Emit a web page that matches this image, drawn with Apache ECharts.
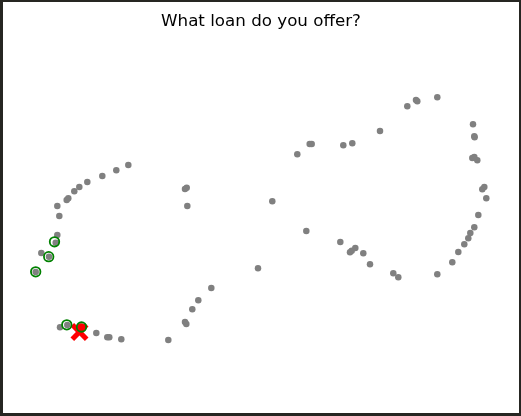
<!DOCTYPE html>
<html>
<head>
<meta charset="utf-8">
<script src="https://cdn.jsdelivr.net/npm/echarts@6/dist/echarts.min.js"></script>
<style>
  html, body { margin: 0; padding: 0; width: 521px; height: 416px; background: #262622; overflow: hidden; }
  #chart { position: absolute; left: 3px; top: 2px; width: 516px; height: 411px; background: #fff; }
</style>
</head>
<body>
<div id="chart"></div>
<script>
const titleText = "What loan do you offer?";

// all loans (x, y in the embedding plane)
const loanPoints = [
  [128.3, 165], [116.3, 170.3], [102.3, 176], [87.3, 182], [79.3, 187], [74.3, 191.3],
  [68.3, 198.3], [66.7, 200], [57.3, 206], [59.3, 216], [57.3, 235], [55.7, 242.7],
  [41.3, 253], [49, 256.7], [35.7, 272],
  [185, 189], [186.7, 187.7], [187.3, 206], [272.3, 201.3], [258, 268.3], [211.3, 288],
  [198.3, 300.3], [192.3, 309.3], [185, 322], [186.3, 324], [168.3, 340],
  [67.3, 325], [60, 327.3], [81, 327.3], [96.3, 333], [107.3, 337.3], [109.3, 337.3], [121.3, 339.3],
  [437.3, 97.3], [416, 100], [417.3, 101.3], [407.3, 106.3], [380, 131], [309.7, 144],
  [311.7, 144], [343.3, 145.3], [352.3, 143.3], [297.3, 154.3], [473, 124.3], [474.3, 136.3],
  [474.6, 137.3], [472.3, 158], [474.3, 157], [477.3, 160.3], [482.3, 189.3], [484.3, 187],
  [486.3, 198.3], [478.3, 215], [474.3, 227.3], [470.3, 233], [468.3, 238.3], [464.3, 244.3],
  [458.3, 252], [452.3, 262.3], [437.3, 274.3], [306.3, 231], [340.3, 242], [350, 252.3],
  [351.7, 250.7], [355.3, 248], [363.3, 253.3], [370, 264.3], [393.3, 273.3], [398.3, 277.3]
];

// nearest neighbours of the query
const neighbourPoints = [[54.5, 241.8], [48.7, 256.7], [35.7, 271.8], [66.8, 324.8], [81.5, 327]];

// the query itself
const queryPoint = [[81, 327.3]];
const queryCross = [[79.5, 332]];

const crossPath = "path://M0,2 L2,0 L5,3 L8,0 L10,2 L7,5 L10,8 L8,10 L5,7 L2,10 L0,8 L3,5 Z";

let myChart = echarts.init(document.getElementById("chart"));

let option = {
  animation: false,
  title: {
    text: titleText,
    left: "center",
    top: 6,
    textStyle: {
      fontFamily: "DejaVu Sans",
      fontWeight: "normal",
      fontSize: 16.7,
      color: "#000"
    }
  },
  grid: { left: 0, right: 0, top: 0, bottom: 0 },
  xAxis: { type: "value", min: 3, max: 519, show: false },
  yAxis: { type: "value", min: 2, max: 413, inverse: true, show: false },
  series: [
    {
      type: "scatter",
      data: loanPoints,
      symbolSize: 6.5,
      itemStyle: { color: "#808080", opacity: 1 }
    },
    {
      type: "scatter",
      data: queryCross,
      symbol: crossPath,
      symbolSize: 18,
      itemStyle: { color: "#ff0000", opacity: 1 }
    },
    {
      type: "scatter",
      data: queryPoint,
      symbolSize: 8,
      itemStyle: { color: "#ff0000", opacity: 1 }
    },
    {
      type: "scatter",
      data: neighbourPoints,
      symbolSize: 9.5,
      itemStyle: { color: "rgba(0,0,0,0)", borderColor: "#008000", borderWidth: 1.8, opacity: 1 }
    }
  ]
};
myChart.setOption(option);
</script>
</body>
</html>
